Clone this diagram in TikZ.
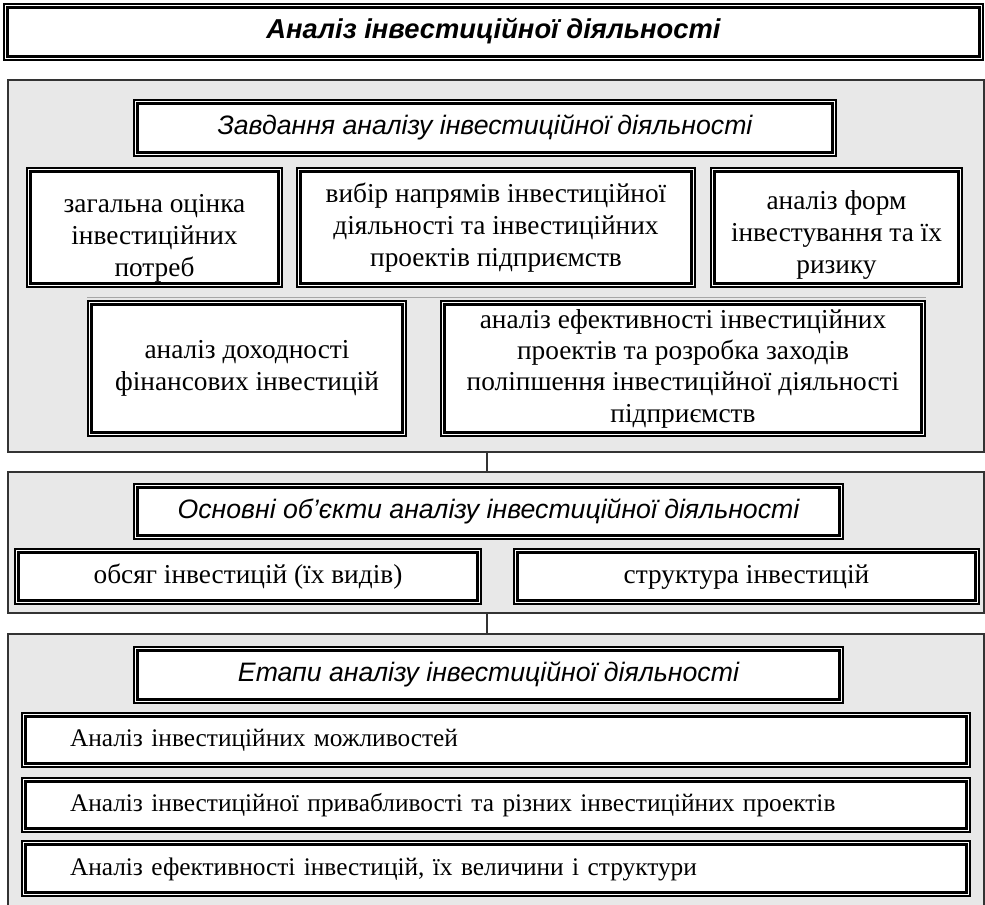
\documentclass[tikz,border=0pt]{standalone}
\usepackage{fontspec}
\setmainfont{Liberation Serif}
\setsansfont{Liberation Sans}
\usetikzlibrary{calc}
\newcommand{\lowtext}[1]{\rule{0pt}{#1}}
\tikzset{
  spot/.style n args={4}{
    at={({(#1+#3)/2},{(#2+#4)/2})},
    minimum width={(#3-#1)*0.75pt},
    minimum height={(#4-#2)*0.75pt}
  },
  oneline/.style={
    text height=15pt,
    text depth=5pt
  },
  panel/.style={
    rectangle,
    draw=black!80,
    fill=black!9,
    line width=1.1pt,
    inner sep=0pt
  },
  taskbox/.style={
    rectangle,
    draw=black,
    fill=white,
    line width=1.1pt,
    inner sep=0pt,
    align=center,
    font=\fontsize{20.5}{24}\selectfont
  },
  headbox/.style={
    taskbox,
    oneline,
    font=\sffamily\itshape\fontsize{20}{24}\selectfont
  },
  stagebox/.style={
    taskbox,
    oneline,
    align=left,
    text width=639pt,
    font=\fontsize{19}{24}\selectfont
  },
  innerframe/.style={
    draw=black,
    line width=2.2pt
  },
  linkline/.style={
    draw=black!80,
    line width=1.1pt
  },
  ghostline/.style={
    draw=black!35,
    line width=0.8pt
  }
}

\begin{document}
\begin{tikzpicture}[x=0.75pt, y=-0.75pt]
  \useasboundingbox (0,0) rectangle (985,904);
  % panels
  \node[panel, spot={8}{80}{984}{452}] (tasks) {};
  \node[panel, spot={8}{472}{984}{613}] (objects) {};
  \node[panel, spot={8}{634}{984}{920}] (stages) {};
  \draw[linkline] ([xshift=-6.75pt]tasks.south) -- ([xshift=-6.75pt]objects.north);
  \draw[linkline] ([xshift=-6.75pt]objects.south) -- ([xshift=-6.75pt]stages.north);

  % title
  \node[taskbox, oneline, font=\sffamily\bfseries\itshape\fontsize{20.5}{24}\selectfont,
        spot={4}{4}{983}{60}] (title) {Аналіз інвестиційної діяльності};

  % tasks
  \node[headbox, spot={134}{100}{836}{156}] (taskhead)
    {Завдання аналізу інвестиційної діяльності};
  \node[taskbox, spot={27}{168}{282}{287}] (needs)
    {\lowtext{30pt}загальна оцінка\\інвестиційних\\потреб};
  \node[taskbox, spot={297}{168}{695}{287}] (directions)
    {вибір напрямів інвестиційної\\діяльності та інвестиційних\\проектів підприємств};
  \node[taskbox, spot={711}{168}{962}{287}] (forms)
    {\lowtext{26pt}аналіз форм\\інвестування та їх\\ризику};
  \node[taskbox, spot={88}{301}{406}{436}] (income)
    {аналіз доходності\\фінансових інвестицій};
  \node[taskbox, spot={441}{301}{925}{436}, font=\fontsize{20.5}{23.5}\selectfont] (efficiency)
    {аналіз ефективності інвестиційних\\проектів та розробка заходів\\поліпшення інвестиційної діяльності\\підприємств};
  \draw[ghostline] ([yshift=2.25pt]income.north west) -- ([yshift=2.25pt]efficiency.north east);

  % objects
  \node[headbox, spot={134}{484}{843}{539}] (objhead)
    {Основні об’єкти аналізу інвестиційної діяльності};
  \node[taskbox, oneline, spot={15}{549}{481}{604}] (volume)
    {обсяг інвестицій (їх видів)};
  \node[taskbox, oneline, spot={514}{549}{979}{604}] (structure)
    {структура інвестицій};

  % stages
  \node[headbox, spot={134}{647}{843}{703}] (stagehead)
    {Етапи аналізу інвестиційної діяльності};
  \node[stagebox, spot={22}{713}{970}{767}] (stageone)
    {Аналіз інвестиційних можливостей};
  \node[stagebox, spot={22}{778}{970}{832}] (stagetwo)
    {Аналіз інвестиційної привабливості та різних інвестиційних проектів};
  \node[stagebox, spot={22}{841}{970}{896}] (stagethree)
    {Аналіз ефективності інвестицій, їх величини і структури};

  \foreach \n in {title, taskhead, needs, directions, forms, income, efficiency,
                  objhead, volume, structure, stagehead, stageone, stagetwo, stagethree}
    \draw[innerframe] ([shift={(3.5pt,-3.5pt)}]\n.north west)
      rectangle ([shift={(-3.5pt,3.5pt)}]\n.south east);
\end{tikzpicture}
\end{document}
